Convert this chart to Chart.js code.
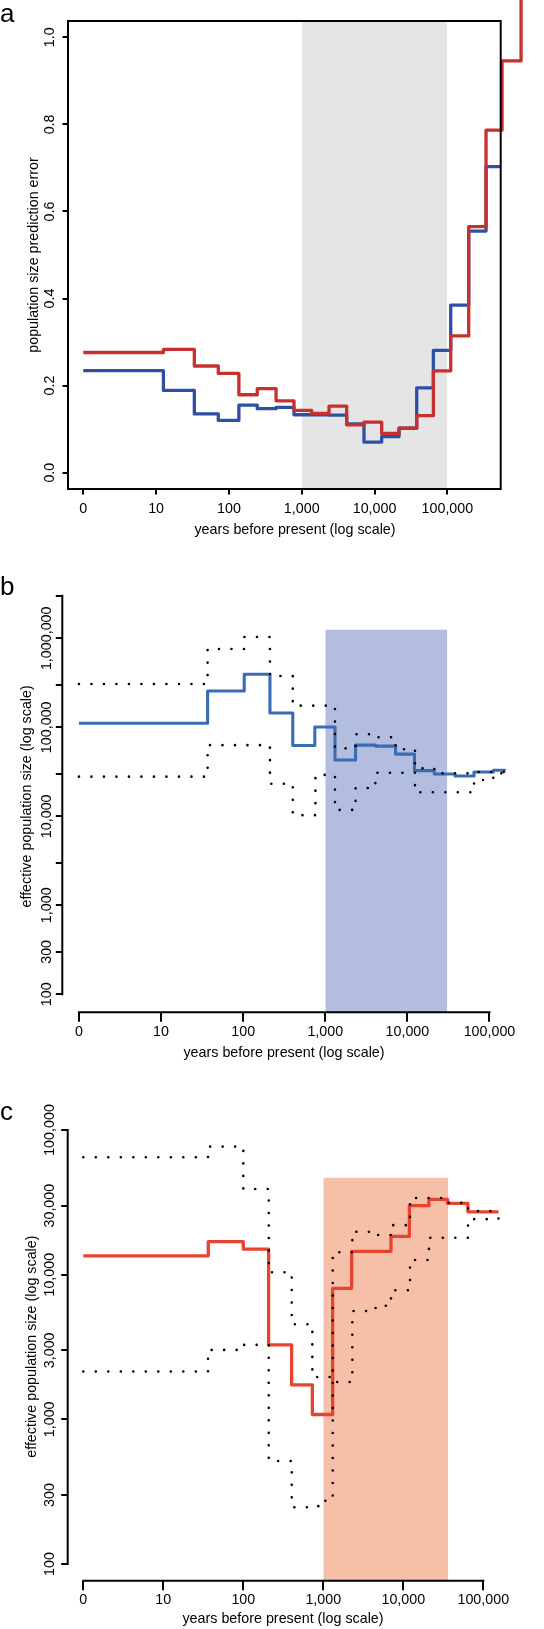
<!DOCTYPE html>
<html>
<head>
<meta charset="utf-8">
<style>
  body { margin: 0; background: #fff; width: 544px; height: 1629px; position: relative; overflow: hidden; }
  canvas { position: absolute; left: 0; }
</style>
</head>
<body>
<canvas id="chartA" width="544" height="545" style="top:0px"></canvas>
<canvas id="chartB" width="544" height="530" style="top:545px"></canvas>
<canvas id="chartC" width="544" height="554" style="top:1075px"></canvas>
<script src="https://cdn.jsdelivr.net/npm/chart.js@4.4.1/dist/chart.umd.min.js"></script>
<script>
// shared x axis (years before present, log scale; "0" sits where 1 would be)
const xTickValues = [1, 10, 100, 1000, 10000, 100000];
const xTickLabels = ["0", "10", "100", "1,000", "10,000", "100,000"];
const xTitle = "years before present (log scale)";

// panel a: prediction error
const aRedYears = [1, 12.6, 33.5, 71.4, 137, 245, 444, 783, 1368, 2371, 4140, 7160, 12530, 21680, 37930, 64270, 111200, 196300, 339600, 563600, 1028000];
const aRedError = [0.276, 0.283, 0.245, 0.228, 0.179, 0.193, 0.165, 0.143, 0.136, 0.153, 0.110, 0.116, 0.090, 0.102, 0.131, 0.234, 0.314, 0.565, 0.787, 0.946, 1.30];
const aBlueYears = [1, 12.6, 33.5, 71.4, 137, 245, 444, 783, 1368, 2371, 4140, 7160, 12530, 21680, 37930, 64270, 111200, 196300, 339600, 530000];
const aBlueError = [0.2345, 0.189, 0.135, 0.120, 0.155, 0.147, 0.150, 0.133, 0.133, 0.132, 0.112, 0.070, 0.083, 0.102, 0.195, 0.281, 0.385, 0.555, 0.703, 0.703];
const aShadeYears = [1000, 100000];
const aYTicks = [0, 0.2, 0.4, 0.6, 0.8, 1.0];
const aYLabels = ["0.0", "0.2", "0.4", "0.6", "0.8", "1.0"];
const aYTitle = "population size prediction error";

// panel b: effective population size, blue population
const bBlueYears = [1, 36.9, 103, 212, 402, 746, 1313, 2340, 4100, 7180, 12200, 21290, 38000, 64800, 111400, 158000];
const bBlueSize = [110900, 256000, 394000, 145000, 62500, 100800, 42900, 63000, 61500, 50000, 32600, 29900, 28400, 31500, 32900, 32900];
const bUpperYears = [1, 36.9, 103, 212, 402, 1313, 2340, 4070, 7180, 12380, 21290, 64800, 158000];
const bUpperSize = [307000, 759000, 1035000, 377000, 175000, 58000, 83400, 77200, 56600, 34600, 30400, 31500, 31500];
const bLowerYears = [1, 36.9, 212, 402, 759, 1313, 2340, 4070, 12380, 64800, 111400, 158000];
const bLowerSize = [27900, 63000, 23200, 10300, 29200, 11800, 20800, 30900, 18600, 25600, 30400, 30400];
const bShadeYears = [1000, 30600];
const bShadeTop = 1250000;
const bYTicks = [100, 300, 1000, 3000, 10000, 30000, 100000, 300000, 1000000, 3000000];
const bYLabels = ["100", "300", "1,000", "", "10,000", "", "100,000", "", "1,000,000", ""];

// panel c: effective population size, red population
const cRedYears = [1, 36.5, 100, 207, 402, 730, 1308, 2260, 7010, 11900, 20900, 35800, 64300, 155000];
const cRedSize = [13500, 16900, 15000, 3270, 1730, 1080, 8050, 14500, 18400, 30000, 33200, 31100, 27200, 27200];
const cCi1Years = [1, 36.2, 100, 208, 403, 729, 1311, 2305, 4500, 7015, 12130, 20940, 64400, 155000];
const cCi1Size = [64800, 76800, 39100, 10400, 4540, 1960, 1810, 5610, 6100, 7800, 12640, 18000, 24200, 25000];
const cCi2Years = [1, 36.2, 100, 208, 403, 866, 1311, 2305, 4500, 7015, 12130, 36500, 64400, 155000];
const cCi2Size = [2140, 3020, 3270, 516, 247, 274, 14300, 19800, 18800, 22000, 33900, 31400, 27500, 27500];
const cShadeYears = [1000, 36500];
const cShadeTop = 46700;
const cYTicks = [100, 300, 1000, 3000, 10000, 30000, 100000];
const cYLabels = ["100", "300", "1,000", "3,000", "10,000", "30,000", "100,000"];
const sizeTitle = "effective population size (log scale)";

const FONT = '"Liberation Sans", Arial, Helvetica, sans-serif';
const pts = (xs, ys) => xs.map((x, i) => ({ x: x, y: ys[i] }));

// R-style axes: text, axis lines / box, panel letter
const rAxes = {
  id: 'rAxes',
  afterDraw(chart, args, o) {
    const ctx = chart.ctx, sx = chart.scales.x, sy = chart.scales.y, ca = chart.chartArea;
    ctx.save();
    ctx.strokeStyle = '#000';
    ctx.lineWidth = 2;
    if (o.box) {
      ctx.strokeRect(ca.left, ca.top, ca.right - ca.left, ca.bottom - ca.top);
    } else {
      ctx.beginPath();
      ctx.moveTo(sx.getPixelForValue(o.xTicks[0]) - 1, ca.bottom);
      ctx.lineTo(sx.getPixelForValue(o.xTicks[o.xTicks.length - 1]) + 1, ca.bottom);
      ctx.moveTo(ca.left, sy.getPixelForValue(o.yTicks[0]) + 1);
      ctx.lineTo(ca.left, sy.getPixelForValue(o.yTicks[o.yTicks.length - 1]) - 1);
      ctx.stroke();
    }
    ctx.fillStyle = '#000';
    ctx.textAlign = 'center';
    ctx.textBaseline = 'middle';
    ctx.font = '14.3px ' + FONT;
    o.xTicks.forEach((v, i) => ctx.fillText(o.xLabels[i], sx.getPixelForValue(v), o.xLabelY));
    o.yTicks.forEach((v, i) => {
      if (!o.yLabels[i]) return;
      ctx.save();
      ctx.translate(o.yLabelX, sy.getPixelForValue(v));
      ctx.rotate(-Math.PI / 2);
      ctx.fillText(o.yLabels[i], 0, 0);
      ctx.restore();
    });
    ctx.fillText(o.xTitle, o.xTitleX, o.xTitleY);
    ctx.save();
    ctx.translate(o.yTitleX, (ca.top + ca.bottom) / 2);
    ctx.rotate(-Math.PI / 2);
    ctx.fillText(o.yTitle, 0, 0);
    ctx.restore();
    ctx.font = '26px ' + FONT;
    ctx.textAlign = 'left';
    ctx.textBaseline = 'alphabetic';
    ctx.fillText(o.panel, o.panelX, o.panelY);
    ctx.restore();
  }
};

function axisCfg(type, min, max, ticks, tickLen, size, isX) {
  return {
    type: type,
    bounds: 'data',
    afterBuildTicks: s => { s.min = min; s.max = max; s.ticks = ticks.map(v => ({ value: v })); },
    afterFit: s => { if (isX) s.height = size; else s.width = size; },
    ticks: { display: false, autoSkip: false },
    grid: { display: true, drawOnChartArea: false, drawTicks: true, tickLength: tickLen, color: '#000', lineWidth: 2 },
    border: { display: false }
  };
}

function options(pad, x, y, axes) {
  return {
    responsive: false,
    animation: false,
    devicePixelRatio: 1,
    layout: { padding: pad },
    elements: { point: { radius: 0 }, line: { tension: 0 } },
    plugins: { legend: { display: false }, tooltip: { enabled: false }, rAxes: axes },
    scales: { x: x, y: y }
  };
}

function stepLine(data, color, width, extra) {
  return Object.assign({ data: data, borderColor: color, borderWidth: width, stepped: 'before', fill: false,
    borderCapStyle: 'butt', borderJoinStyle: 'round', order: 1 }, extra || {});
}
function dotLine(data) {
  return { data: data, borderColor: '#000', borderWidth: 2.6, stepped: 'before', fill: false,
    borderDash: [0, 12.5], borderCapStyle: 'round', order: 0 };
}
function shade(years, top, color) {
  return { data: years.map(x => ({ x: x, y: top })), fill: 'start', backgroundColor: color,
    borderColor: 'rgba(0,0,0,0)', borderWidth: 0, order: 9 };
}

// panel a
new Chart('chartA', {
  type: 'line',
  data: { datasets: [
    stepLine(pts(aRedYears, aRedError), '#c8302f', 3.3, { clip: false, order: 0 }),
    stepLine(pts(aBlueYears, aBlueError), '#2d50a4', 3.3, { order: 1 }),
    shade(aShadeYears, 1.0375, '#e5e5e5')
  ] },
  options: options({ left: 58, right: 43.3, top: 21, bottom: 46 },
    axisCfg('logarithmic', 0.6166, 540000, xTickValues, 5.5, 10, true),
    axisCfg('linear', -0.0375, 1.0375, aYTicks, 5.5, 10, false),
    { box: true, xTicks: xTickValues, xLabels: xTickLabels, yTicks: aYTicks, yLabels: aYLabels,
      xTitle: xTitle, yTitle: aYTitle, xLabelY: 509.3, xTitleY: 530, xTitleX: 295,
      yLabelX: 49.7, yTitleX: 33.7, panel: 'a', panelX: 0, panelY: 21.7 }),
  plugins: [rAxes]
});

// panel b
new Chart('chartB', {
  type: 'line',
  data: { datasets: [
    dotLine(pts(bUpperYears, bUpperSize)),
    dotLine(pts(bLowerYears, bLowerSize)),
    stepLine(pts(bBlueYears, bBlueSize), '#3a6cb3', 3.1),
    shade(bShadeYears, bShadeTop, '#b3bde0')
  ] },
  options: options({ left: 52.3, right: 38, top: 35.5, bottom: 52.7 },
    axisCfg('logarithmic', 0.627, 158900, xTickValues, 9.5, 10, true),
    axisCfg('logarithmic', 62.8, 4460000, bYTicks, 6.5, 10, false),
    { box: false, xTicks: xTickValues, xLabels: xTickLabels, yTicks: bYTicks, yLabels: bYLabels,
      xTitle: xTitle, yTitle: sizeTitle, xLabelY: 487.5, xTitleY: 507.7, xTitleX: 284,
      yLabelX: 46.7, yTitleX: 27.5, panel: 'b', panelX: 0, panelY: 50 }),
  plugins: [rAxes]
});

// panel c
new Chart('chartC', {
  type: 'line',
  data: { datasets: [
    dotLine(pts(cCi1Years, cCi1Size)),
    dotLine(pts(cCi2Years, cCi2Size)),
    stepLine(pts(cRedYears, cRedSize), '#e8432f', 3.3),
    shade(cShadeYears, cShadeTop, '#f5bfa8')
  ] },
  options: options({ left: 57.7, right: 45.4, top: 37.6, bottom: 38.3 },
    axisCfg('logarithmic', 0.638, 155300, xTickValues, 9.5, 10, true),
    axisCfg('logarithmic', 76.7, 131900, cYTicks, 6.5, 10, false),
    { box: false, xTicks: xTickValues, xLabels: xTickLabels, yTicks: cYTicks, yLabels: cYLabels,
      xTitle: xTitle, yTitle: sizeTitle, xLabelY: 525, xTitleY: 544.3, xTitleX: 283,
      yLabelX: 49.7, yTitleX: 32.3, panel: 'c', panelX: 0, panelY: 45 }),
  plugins: [rAxes]
});
</script>
</body>
</html>
